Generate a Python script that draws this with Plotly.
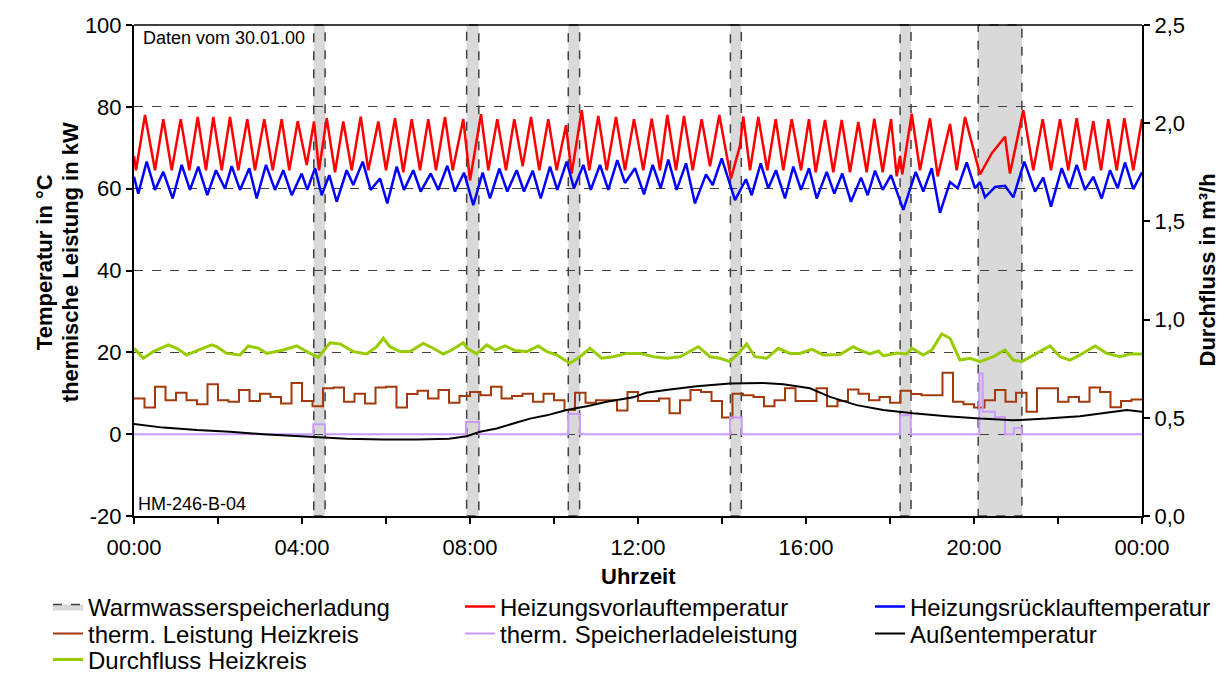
import plotly.graph_objects as go

# ---------------- data (time in hours) ----------------
vl_t = [0.0, 0.048, 0.262, 0.5, 0.698, 0.898, 1.112, 1.317, 1.517, 1.714, 1.888, 2.088, 2.286, 2.483, 2.698, 2.881,
        3.102, 3.302, 3.517, 3.698, 3.898, 4.112, 4.286, 4.405, 4.588, 4.786, 4.983, 5.183, 5.398, 5.579, 5.817,
        6.0, 6.214, 6.412, 6.612, 6.81, 7.007, 7.19, 7.405, 7.588, 7.84, 8.0, 8.262, 8.436, 8.65, 8.857, 9.055,
        9.255, 9.452, 9.65, 9.864, 10.064, 10.286, 10.421, 10.66, 10.84, 11.055, 11.255, 11.476, 11.69, 11.905,
        12.126, 12.326, 12.524, 12.698, 12.905, 13.095, 13.302, 13.517, 13.714, 13.936, 14.214, 14.429, 14.507,
        14.667, 14.864, 15.079, 15.279, 15.46, 15.66, 15.881, 16.071, 16.231, 16.452, 16.65, 16.85, 17.048,
        17.245, 17.445, 17.626, 17.826, 18.024, 18.16, 18.238, 18.293, 18.517, 18.714, 18.952, 19.136, 19.429,
        19.588, 19.786, 20.143, 20.421, 20.738, 20.857, 21.174, 21.412, 21.636, 21.833, 22.048, 22.245, 22.445,
        22.643, 22.84, 23.024, 23.198, 23.398, 23.579, 23.793, 24.0]
vl_v = [68, 64.5, 78, 64.5, 77, 64.5, 77, 64.5, 77.5, 64.5, 77.5, 64.5, 77.5, 64.5, 77, 64.5,
        77, 64.5, 77, 64.5, 76.5, 65.8, 76.4, 64.5, 77.2, 64, 76.4, 64.5, 77.6, 64.5, 76.4,
        64.5, 77.2, 64, 77, 64.5, 77, 64.5, 77.5, 64.5, 77, 62, 78.2, 64.5, 77, 64.5, 77,
        65.5, 77.5, 64.5, 77, 64.5, 75.5, 63.7, 79.2, 64.5, 77.8, 64.5, 77.5, 64.5, 77,
        64.5, 77.1, 64.5, 78, 64.5, 77.8, 64.5, 77, 65.5, 78, 62.5, 70.5, 77.6,
        64.5, 77.5, 64.5, 77, 64.5, 77, 64.5, 77, 64, 76.8, 64, 76.8, 64,
        76.3, 64, 77.1, 64, 77, 63, 68, 63.5, 78.3, 64.5, 77.2, 63, 75.8,
        64.5, 77.5, 63.5, 68.6, 72.7, 63.7, 79.2, 64.5, 77, 64.5, 77, 64.5, 77.2,
        64.5, 76.5, 64.5, 77, 64.5, 77.2, 64.5, 77]

rl_t = [0.0, 0.102, 0.302, 0.5, 0.698, 0.921, 1.136, 1.333, 1.531, 1.745, 1.952, 2.167, 2.326, 2.524, 2.745,
        2.921, 3.143, 3.357, 3.555, 3.755, 3.993, 4.126, 4.31, 4.469, 4.65, 4.826, 5.064, 5.221, 5.445, 5.636,
        5.857, 6.031, 6.255, 6.429, 6.65, 6.826, 7.064, 7.245, 7.46, 7.643, 7.857, 8.079, 8.302, 8.476, 8.698,
        8.888, 9.112, 9.286, 9.493, 9.683, 9.905, 10.079, 10.302, 10.476, 10.698, 10.874, 11.095, 11.293,
        11.507, 11.69, 11.929, 12.143, 12.35, 12.54, 12.721, 12.921, 13.143, 13.357, 13.619, 13.779, 13.993,
        14.31, 14.571, 14.707, 14.921, 15.102, 15.286, 15.5, 15.698, 15.881, 16.071, 16.255, 16.493, 16.674,
        16.864, 17.071, 17.31, 17.469, 17.643, 17.826, 18.024, 18.317, 18.612, 18.793, 18.993, 19.19, 19.429,
        19.612, 19.826, 20.024, 20.143, 20.262, 20.5, 20.738, 20.936, 21.198, 21.452, 21.65, 21.833, 22.088,
        22.269, 22.445, 22.643, 22.84, 23.04, 23.238, 23.421, 23.595, 23.793, 24.0]
rl_v = [62.9, 58.8, 66.6, 59.7, 64.1, 57.6, 65.8, 59.7, 65.4, 58.4, 64.5, 60, 65.5, 59.7, 65,
        57.6, 65.8, 59.7, 64.5, 58.4, 63.7, 59.7, 65, 58.4, 63.3, 56.8, 64.5, 60.9, 66.6, 59.7,
        62.5, 56.4, 65.4, 59.7, 64.5, 59.3, 63.7, 59.7, 65.6, 59.3, 63.9, 56, 63.9, 57.6, 64.9,
        59.3, 64.5, 59.3, 64.4, 57.6, 65.4, 59.7, 66.6, 60.1, 65.8, 59.7, 65.8, 59.7,
        67, 61.4, 65, 58.6, 65.8, 60.1, 67.1, 59.7, 66.2, 56.4, 63.5, 60.9, 67.4,
        57.2, 62.3, 58.4, 66.2, 60.1, 64.5, 57.6, 65.4, 59.7, 65, 57.6, 64.1, 58.8,
        63.7, 56.8, 62.7, 58.4, 64.4, 59.7, 63.3, 54.8, 64.1, 59.3, 65, 54.1, 61.6,
        60.1, 66.4, 60.1, 61.6, 57.9, 60.4, 60.7, 57.9, 66.6, 59.3, 62.7, 55.6, 65,
        60.1, 65.8, 59.7, 62.9, 57.6, 64.5, 60.1, 66.4, 59.9, 64]

# thermal power heating circuit, 15-min values (kW)
hk_power = [8.7, 6.5, 11.6, 8.3, 10.1, 8.3, 7.3, 12.2, 8.3, 7.9, 10.8, 8.1, 9.9, 9.1, 7.5, 12.5,
            8.1, 6.8, 11.2, 11.4, 7.9, 9.9, 7.5, 11.4, 11.6, 6.5, 9.8, 10.6, 8.7, 10.8, 7.7, 9.3,
            10.3, 9.5, 11.6, 8.7, 9.3, 9.9, 7.9, 9.9, 8.3, 5.9, 10.1, 7.7, 8.3, 8.3, 5.8, 10.3,
            8.1, 8.1, 8.7, 5.1, 8.3, 10.8, 10.3, 8.1, 4.1, 9.9, 9.5, 9.1, 6.8, 8.3, 11.2, 8.1,
            8.1, 11.2, 6.8, 8.1, 10.9, 9.9, 8.3, 9.1, 7.7, 10.6, 9.8, 9.5, 9.5, 15.0, 7.9, 7.3,
            6.5, 8.3, 10.8, 7.9, 10.1, 5.5, 11.2, 11.2, 7.9, 9.1, 7.9, 11.4, 10.3, 6.6, 8.1, 8.5]
hk_t = [i * 0.25 for i in range(len(hk_power))] + [24.0]

sp_t = [0.0, 4.269, 4.548, 7.905, 8.221, 10.34, 10.619, 14.19, 14.469, 18.238, 18.493,
        20.126, 20.207, 20.5, 20.738, 20.95, 21.136, 24.0]
sp_v = [0.0, 2.4, 0.0, 3.0, 0.0, 4.9, 0.0, 4.1, 0.0, 4.6, 0.0,
        14.8, 5.5, 4.2, 0.0, 1.5, 0.0, 0.0]

at_t = [0.0, 0.698, 1.5, 2.286, 3.079, 3.874, 4.35, 5.064, 5.936, 6.726, 7.5, 7.921, 8.238, 8.636,
        9.031, 9.429, 9.826, 10.3, 10.779, 11.255, 11.888, 12.19, 12.762, 13.397, 14.19, 14.984,
        15.46, 16.095, 16.571, 17.207, 17.84, 18.55, 19.35, 20.14, 20.936, 21.73, 22.52, 23.32, 23.64, 24.0]
at_v = [2.5, 1.6, 1.0, 0.6, 0.0, -0.5, -0.8, -1.1, -1.3, -1.3, -1.1, -0.5, 0.6, 1.4,
        2.6, 3.8, 4.6, 5.9, 6.8, 7.9, 9.0, 10.1, 10.9, 11.7, 12.4, 12.5,
        12.2, 11.2, 9.1, 7.1, 5.9, 5.1, 4.4, 3.8, 3.4, 3.8, 4.4, 5.5, 5.9, 5.5]

df_t = [0.0, 0.221, 0.46, 0.817, 1.017, 1.255, 1.531, 1.85, 1.969, 2.207, 2.524, 2.721, 2.96, 3.16,
        3.555, 3.874, 4.19, 4.388, 4.667, 4.905, 5.221, 5.54, 5.779, 5.936, 6.095, 6.333, 6.571, 6.888,
        7.126, 7.364, 7.564, 7.84, 7.936, 8.16, 8.398, 8.595, 8.833, 9.071, 9.35, 9.626, 9.826, 10.064,
        10.381, 10.619, 10.857, 11.136, 11.412, 11.731, 12.048, 12.364, 12.683, 13.0, 13.436, 13.714,
        13.952, 14.19, 14.429, 14.588, 14.786, 15.064, 15.34, 15.619, 15.857, 16.136, 16.412, 16.81,
        17.126, 17.286, 17.524, 17.721, 17.84, 18.16, 18.398, 18.517, 18.793, 18.993, 19.231, 19.429,
        19.667, 19.905, 20.143, 20.46, 20.738, 20.936, 21.136, 21.412, 21.81, 22.048, 22.286, 22.524,
        22.881, 23.16, 23.476, 23.714, 24.0]
df_v = [0.854, 0.803, 0.837, 0.871, 0.854, 0.82, 0.845, 0.871, 0.862, 0.828, 0.82, 0.866, 0.854, 0.828,
        0.845, 0.866, 0.828, 0.808, 0.882, 0.876, 0.837, 0.825, 0.862, 0.905, 0.862, 0.837, 0.837, 0.879,
        0.854, 0.825, 0.845, 0.882, 0.854, 0.825, 0.871, 0.845, 0.866, 0.843, 0.837, 0.866, 0.837, 0.82,
        0.778, 0.811, 0.854, 0.803, 0.811, 0.828, 0.828, 0.811, 0.803, 0.811, 0.862, 0.811,
        0.803, 0.786, 0.837, 0.876, 0.811, 0.803, 0.854, 0.828, 0.828, 0.849, 0.82, 0.822,
        0.862, 0.845, 0.825, 0.84, 0.815, 0.83, 0.825, 0.854, 0.82, 0.845, 0.927, 0.905,
        0.794, 0.803, 0.786, 0.811, 0.845, 0.794, 0.786, 0.82, 0.866, 0.811, 0.794, 0.82,
        0.866, 0.828, 0.811, 0.825, 0.825]

bands_start = [4.28, 7.92, 10.34, 14.2, 18.24, 20.1]
bands_end = [4.55, 8.21, 10.61, 14.46, 18.5, 21.14]

x_tickvals = list(range(0, 25, 2))
x_ticktext = ["00:00", "", "04:00", "", "08:00", "", "12:00", "", "16:00", "", "20:00", "", "00:00"]
y_tickvals = [-20, 0, 20, 40, 60, 80, 100]
y_ticktext = ["-20", "0", "20", "40", "60", "80", "100"]

# ---------------- figure ----------------
FONT = "Liberation Sans, Arial, sans-serif"
W, H = 1224, 674
fig = go.Figure()

# legend cells: text-left px, row-center px
cells = {
    "legend":  (88, 607), "legend2": (500, 607), "legend3": (910, 607),
    "legend4": (88, 634), "legend5": (500, 634), "legend6": (910, 634),
    "legend7": (88, 660),
}

fig.add_trace(go.Scatter(x=[-5, -4, -4, -5, -5], y=[0, 0, 1, 1, 0], fill="toself",
                         fillcolor="#d9d9d9", mode="lines",
                         line=dict(color="#404040", width=1.5, dash="dash"),
                         name="Warmwasserspeicherladung", hoverinfo="skip", legend="legend"))
fig.add_trace(go.Scatter(x=vl_t, y=vl_v, mode="lines", line=dict(color="#ff0000", width=2.5),
                         name="Heizungsvorlauftemperatur", legend="legend2"))
fig.add_trace(go.Scatter(x=rl_t, y=rl_v, mode="lines", line=dict(color="#0000ff", width=2.5),
                         name="Heizungsrücklauftemperatur", legend="legend3"))
fig.add_trace(go.Scatter(x=hk_t, y=hk_power + [hk_power[-1]], mode="lines",
                         line=dict(color="#a33a0c", width=2, shape="hv"),
                         name="therm. Leistung Heizkreis", legend="legend4"))
fig.add_trace(go.Scatter(x=sp_t, y=sp_v, mode="lines",
                         line=dict(color="#cc99ff", width=2, shape="hv"),
                         name="therm. Speicherladeleistung", legend="legend5"))
fig.add_trace(go.Scatter(x=at_t, y=at_v, mode="lines", line=dict(color="#000000", width=2),
                         name="Außentemperatur", legend="legend6"))
fig.add_trace(go.Scatter(x=df_t, y=df_v, mode="lines", line=dict(color="#99cc00", width=3),
                         name="Durchfluss Heizkreis", yaxis="y2", legend="legend7"))

shapes = []
for s, e in zip(bands_start, bands_end):
    shapes.append(dict(type="rect", xref="x", yref="paper", x0=s, x1=e, y0=0, y1=1,
                       fillcolor="#d9d9d9", line=dict(color="#404040", width=1.5, dash="dash"),
                       layer="between"))
shapes.append(dict(type="line", xref="paper", yref="paper", x0=0, x1=1, y0=1, y1=1,
                   line=dict(color="black", width=1.5)))

legend_layouts = {}
for key, (tx, ty) in cells.items():
    legend_layouts[key] = dict(orientation="v", xref="container", yref="container",
                               x=(tx - 40) / W, y=1 - ty / H, xanchor="left", yanchor="middle",
                               font=dict(size=24, family=FONT), bgcolor="rgba(0,0,0,0)",
                               borderwidth=0, itemwidth=30)

title_font = dict(size=22, family=FONT)
fig.update_layout(
    width=W, height=H,
    margin=dict(l=134, r=82, t=25, b=158, autoexpand=False),
    paper_bgcolor="white", plot_bgcolor="white",
    separators=",.",
    font=dict(family=FONT, size=22, color="black"),
    shapes=shapes,
    showlegend=True,
    xaxis=dict(range=[0, 24], tickvals=x_tickvals, ticktext=x_ticktext, ticks="outside",
               ticklen=6, tickwidth=2, tickcolor="black", showline=True, linewidth=2,
               linecolor="black", showgrid=False, zeroline=False, ticklabelstandoff=5),
    yaxis=dict(range=[-20, 100], tickvals=y_tickvals, ticktext=y_ticktext, ticks="outside",
               ticklen=6, tickwidth=2,
               tickcolor="black", showline=True, linewidth=2, linecolor="black",
               showgrid=True, gridcolor="#404040", griddash="dash", gridwidth=1, zeroline=False),
    yaxis2=dict(range=[0, 2.5], dtick=0.5, tickformat=".1f", overlaying="y", side="right",
                ticks="outside", ticklen=6, tickwidth=2, tickcolor="black", showline=True,
                linewidth=2, linecolor="black", showgrid=False, zeroline=False),
    annotations=[
        dict(text="Daten vom 30.01.00", xref="paper", yref="paper", x=0.007, y=0.997,
             xanchor="left", yanchor="top", showarrow=False, font=dict(size=18)),
        dict(text="HM-246-B-04", xref="paper", yref="paper", x=0.002, y=0.0,
             xanchor="left", yanchor="bottom", showarrow=False, font=dict(size=18)),
        # axis titles
        dict(text="<b>Uhrzeit</b>", xref="paper", yref="paper", x=0.5, y=-0.124,
             xanchor="center", yanchor="middle", showarrow=False, font=title_font),
        dict(text="<b>Temperatur in °C</b>", xref="paper", yref="paper", x=(44 - 134) / 1008,
             y=0.517, xanchor="center", yanchor="middle", showarrow=False, textangle=-90,
             font=title_font),
        dict(text="<b>thermische Leistung in kW</b>", xref="paper", yref="paper",
             x=(70 - 134) / 1008, y=0.517, xanchor="center", yanchor="middle", showarrow=False,
             textangle=-90, font=title_font),
        dict(text="<b>Durchfluss in m³/h</b>", xref="paper", yref="paper",
             x=(1207 - 134) / 1008, y=0.5, xanchor="center", yanchor="middle", showarrow=False,
             textangle=-90, font=title_font),
    ],
    **legend_layouts,
)

fig.write_html("out.html")
